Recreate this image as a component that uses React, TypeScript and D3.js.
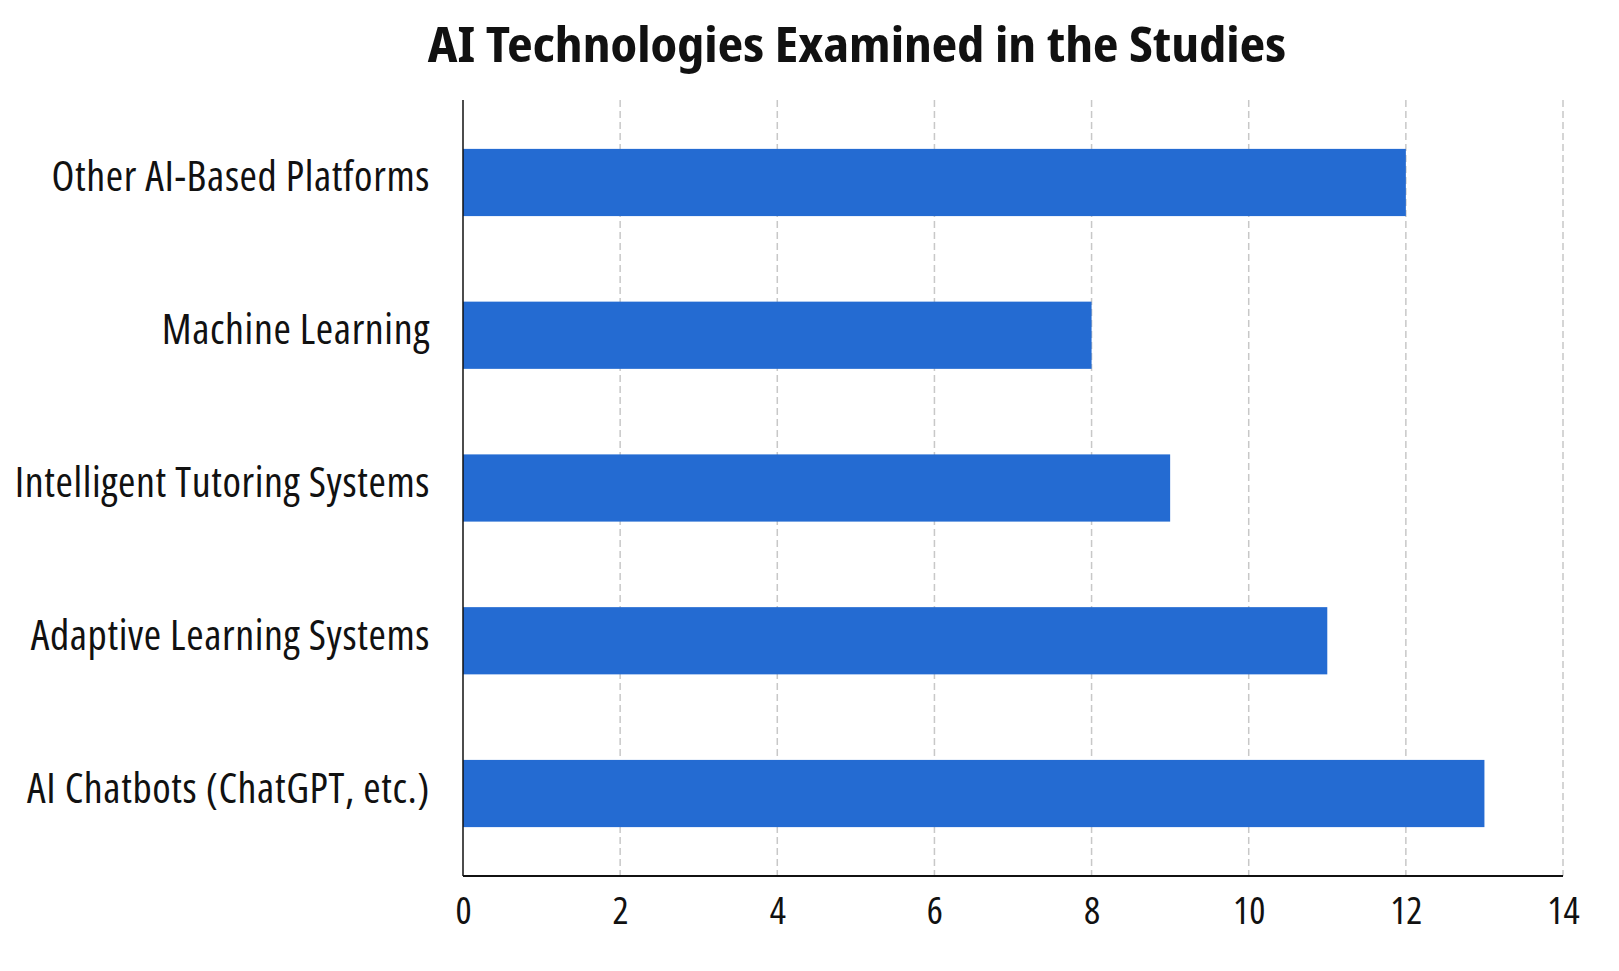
import React, { useEffect, useRef } from 'react';
import * as d3 from 'd3';

// categories, top to bottom
const categories = [
  'Other AI-Based Platforms',
  'Machine Learning',
  'Intelligent Tutoring Systems',
  'Adaptive Learning Systems',
  'AI Chatbots (ChatGPT, etc.)',
];
const studyCounts = [12, 8, 9, 11, 13];
const xTicks = [0, 2, 4, 6, 8, 10, 12, 14];
const title = 'AI Technologies Examined in the Studies';

const WIDTH = 1619;
const HEIGHT = 971;
const FONT = '"Open Sans", "Noto Sans", sans-serif';
const TITLE_FONT = '"Noto Sans Display", "Open Sans", sans-serif';

const App: React.FC = () => {
  const svgRef = useRef<SVGSVGElement>(null);

  useEffect(() => {
    if (!svgRef.current) return;
    const svg = d3.select(svgRef.current);
    svg.selectAll('*').remove();

    const left = 463;
    const right = 1563;
    const top = 100;
    const bottom = 876;

    const x = d3.scaleLinear().domain([0, 14]).range([left, right]);
    const y = d3
      .scaleBand<string>()
      .domain(categories)
      .range([top, bottom])
      .paddingInner(0.56)
      .paddingOuter(0.32);

    // title
    svg
      .append('text')
      .attr('x', 857)
      .attr('y', 62)
      .attr('text-anchor', 'middle')
      .attr('font-family', TITLE_FONT)
      .attr('font-size', 48.5)
      .attr('font-weight', 700)
      .style('font-stretch', 'condensed')
      .attr('fill', '#111')
      .text(title);

    // dashed vertical grid
    svg
      .append('g')
      .selectAll('line')
      .data(xTicks.filter((t) => t > 0))
      .enter()
      .append('line')
      .attr('x1', (d) => x(d))
      .attr('x2', (d) => x(d))
      .attr('y1', top)
      .attr('y2', bottom)
      .attr('stroke', '#c8c8c8')
      .attr('stroke-width', 1.5)
      .attr('stroke-dasharray', '7,4');

    // bars
    svg
      .append('g')
      .selectAll('rect')
      .data(categories)
      .enter()
      .append('rect')
      .attr('x', x(0))
      .attr('y', (d) => y(d) as number)
      .attr('width', (d, i) => x(studyCounts[i]) - x(0))
      .attr('height', y.bandwidth())
      .attr('fill', '#246bd2');

    // category labels
    svg
      .append('g')
      .selectAll('text')
      .data(categories)
      .enter()
      .append('text')
      .attr('x', 430)
      .attr('y', (d) => (y(d) as number) + y.bandwidth() / 2 + 9)
      .attr('text-anchor', 'end')
      .attr('font-family', FONT)
      .attr('font-size', 42)
      .attr('letter-spacing', 0.6)
      .style('font-stretch', 'condensed')
      .attr('fill', '#111')
      .text((d) => d);

    // x axis
    const xAxis = svg
      .append('g')
      .attr('transform', `translate(0, ${bottom})`)
      .call(
        d3
          .axisBottom(x)
          .tickValues(xTicks)
          .tickSize(0)
          .tickPadding(0)
          .tickFormat((d) => String(d))
      );
    xAxis.select('.domain').remove();
    xAxis
      .selectAll('text')
      .attr('dy', null)
      .attr('y', 48)
      .attr('font-family', FONT)
      .attr('font-size', 38)
      .style('font-stretch', 'condensed')
      .attr('fill', '#111');

    // axis lines
    svg
      .append('line')
      .attr('x1', left)
      .attr('x2', left)
      .attr('y1', top)
      .attr('y2', bottom)
      .attr('stroke', '#111')
      .attr('stroke-width', 1.5);
    svg
      .append('line')
      .attr('x1', left)
      .attr('x2', right)
      .attr('y1', bottom)
      .attr('y2', bottom)
      .attr('stroke', '#111')
      .attr('stroke-width', 2);
  }, []);

  return (
    <svg
      ref={svgRef}
      width={WIDTH}
      height={HEIGHT}
      style={{ position: 'absolute', left: 0, top: 0, background: '#fff' }}
    />
  );
};

export default App;
